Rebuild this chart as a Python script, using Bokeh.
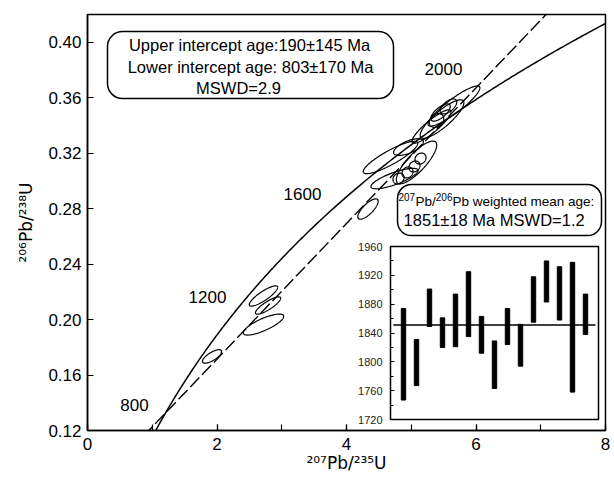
import numpy as np
from bokeh.plotting import figure
from bokeh.models import (Range1d, LinearAxis, SingleIntervalTicker, FixedTicker,
                          Label, BoxAnnotation, PrintfTickFormatter)
from bokeh.embed import file_html
from bokeh.resources import INLINE

# ---------------- data ----------------
# decay constants (1/yr)
L238 = 1.55125e-10
L235 = 9.8485e-10

lower_intercept_age = 803.0    # Ma
upper_intercept_age = 1903.0   # Ma
concordia_label_ages = ["800", "1200", "1600", "2000"]

# analyses: 207Pb/235U, 206Pb/238U, 1-sigma extents and error correlation
ell_x = [1.923, 2.718, 2.788, 2.718, 4.332, 4.741, 4.680, 5.081, 5.143, 5.050,
         4.942, 4.803, 4.958, 5.313, 5.660, 5.475, 5.452, 5.575, 5.390]
ell_y = [0.1734, 0.2170, 0.2101, 0.1964, 0.2797, 0.3017, 0.3169, 0.3133, 0.3161, 0.3104,
         0.3061, 0.3017, 0.3244, 0.3392, 0.3540, 0.3446, 0.3493, 0.3537, 0.3436]
ell_sx = [0.148, 0.2198, 0.195, 0.3127, 0.1572, 0.364, 0.422, 0.312, 0.0853, 0.0853,
          0.0853, 0.0853, 0.2303, 0.3018, 0.400, 0.3376, 0.150, 0.128, 0.112]
ell_sy = [0.00487, 0.00733, 0.00625, 0.00757, 0.00734, 0.00739, 0.0117, 0.01542, 0.00398, 0.00398,
          0.00398, 0.00398, 0.00602, 0.01205, 0.01446, 0.01388, 0.00621, 0.0054, 0.00497]
ell_rho = [0.731, 0.851, 0.842, 0.784, 0.759, 0.784, 0.872, 0.812, 0.18, 0.18,
           0.18, 0.18, 0.636, 0.888, 0.902, 0.846, 0.699, 0.594, 0.276]

# inset: 207Pb/206Pb ages (Ma), error bar bottom / top
spot = list(range(1, 16))
age_low = [1747, 1767, 1849, 1820, 1821, 1835, 1812, 1763, 1824, 1794, 1855, 1883, 1858, 1758, 1838]
age_high = [1874, 1831, 1901, 1861, 1894, 1925, 1863, 1829, 1874, 1852, 1918, 1940, 1932, 1938, 1894]
mean_age = 1851

y_ticks = [0.12, 0.16, 0.20, 0.24, 0.28, 0.32, 0.36, 0.40]

FONT = "Liberation Sans"

# ---------------- figure ----------------
p = figure(width=614, height=481, x_range=Range1d(0, 8), y_range=Range1d(0.12, 0.42),
           output_backend="svg", toolbar_location=None,
           min_border_left=87, min_border_right=9, min_border_top=14, min_border_bottom=51)
p.xgrid.visible = False
p.ygrid.visible = False
p.outline_line_color = "black"
p.outline_line_width = 1.5
p.background_fill_color = "white"
p.border_fill_color = "white"

for ax in (p.xaxis, p.yaxis):
    ax.axis_line_width = 1.5
    ax.major_tick_in = 6
    ax.major_tick_out = 0
    ax.major_tick_line_width = 1.2
    ax.minor_tick_in = 6
    ax.minor_tick_out = 0
    ax.minor_tick_line_width = 1.2
    ax.major_label_text_font = FONT
    ax.major_label_text_font_size = "17px"
    ax.major_label_text_color = "black"
    ax.axis_label_text_font = "DejaVu Sans"
    ax.axis_label_text_font_size = "17px"
    ax.axis_label_text_font_style = "normal"
    ax.axis_label_text_color = "black"

p.xaxis.ticker = SingleIntervalTicker(interval=2, num_minor_ticks=2)
p.xaxis.major_label_standoff = 7
p.xaxis.axis_label = "\u00b2\u2070\u2077Pb/\u00b2\u00b3\u2075U"
p.xaxis.axis_label_standoff = 0
p.yaxis.ticker = FixedTicker(ticks=y_ticks)
p.yaxis.formatter = PrintfTickFormatter(format="%.2f")
p.yaxis.minor_tick_line_color = None
p.yaxis.major_label_standoff = 6
p.yaxis.axis_label = "\u00b2\u2070\u2076Pb/\u00b2\u00b3\u2078U"
p.yaxis.axis_label_standoff = 9

# concordia
ages = np.linspace(600, 2400, 400) * 1e6
cx = np.exp(L235 * ages) - 1
cy = np.exp(L238 * ages) - 1
p.line(cx, cy, line_color="black", line_width=1.5)

# discordia
def conc(t_ma):
    t = t_ma * 1e6
    return np.exp(L235 * t) - 1, np.exp(L238 * t) - 1

x0, y0 = conc(lower_intercept_age)
x1, y1 = conc(upper_intercept_age)
slope = (y1 - y0) / (x1 - x0)
dx = np.array([0.5, 8.0])
p.line(dx, y0 + slope * (dx - x0), line_color="black", line_width=1.4, line_dash="13 4")

# error ellipses
t = np.linspace(0, 2 * np.pi, 120)
xs, ys = [], []
for x, y, sx, sy, r in zip(ell_x, ell_y, ell_sx, ell_sy, ell_rho):
    xs.append(list(x + sx * np.cos(t)))
    ys.append(list(y + sy * (r * np.cos(t) + np.sqrt(1 - r * r) * np.sin(t))))
p.multi_line(xs, ys, line_color="black", line_width=1.2)

def label(txt, lx, ly, size, align="center"):
    p.add_layout(Label(x=lx, y=ly, text=txt, text_font=FONT, text_font_size=size,
                       text_align=align, text_baseline="middle", text_color="black"))

# concordia age labels
lab_x = [0.726, 1.853, 3.320, 5.498]
lab_y = [0.13875, 0.21663, 0.29091, 0.38105]
for txt, lx, ly in zip(concordia_label_ages, lab_x, lab_y):
    label(txt, lx, ly, "17px")

# text box 1
p.add_layout(BoxAnnotation(left=0.309, right=4.726, bottom=0.3594, top=0.4077,
                           fill_color="white", fill_alpha=1.0, line_color="black",
                           line_alpha=1.0, line_width=1.5, border_radius=15))
label("Upper intercept age:190\u00b1145 Ma", 2.502, 0.39836, "16.5px")
label("Lower intercept age: 803\u00b1170 Ma", 2.518, 0.38250, "16.5px")
label("MSWD=2.9", 2.332, 0.36699, "16.5px")

# text box 2
p.add_layout(BoxAnnotation(left=4.788, right=7.938, bottom=0.2606, top=0.2974,
                           fill_color="white", fill_alpha=1.0, line_color="black",
                           line_alpha=1.0, line_width=1.5, border_radius=14))
label("207", 4.803, 0.28875, "10px", "left")
label("Pb/", 5.066, 0.28550, "13.5px", "left")
label("206", 5.379, 0.28875, "10px", "left")
label("Pb weighted mean age:", 5.637, 0.28550, "13.5px", "left")
label("1851\u00b118 Ma MSWD=1.2", 6.28, 0.27194, "16.5px")

# inset
p.extra_x_ranges = {"ix": Range1d(-23.3077, 16.538)}
p.extra_y_ranges = {"iy": Range1d(1704.74, 2281.9)}
p.quad(left=0, right=16, bottom=1720, top=1960, x_range_name="ix", y_range_name="iy",
       fill_color="white", line_color="black", line_width=1.5)
p.vbar(x=spot, bottom=age_low, top=age_high, width=0.34, fill_color="black",
       line_color="black", x_range_name="ix", y_range_name="iy")
p.line([0.21, 15.77], [mean_age, mean_age], line_color="black", line_width=1.5,
       x_range_name="ix", y_range_name="iy")

iax = LinearAxis(x_range_name="ix", y_range_name="iy", fixed_location=0,
                 bounds=(1720, 1960), ticker=SingleIntervalTicker(interval=40, num_minor_ticks=2))
iax.axis_line_color = None
iax.major_tick_in = 4
iax.major_tick_out = 0
iax.minor_tick_in = 3
iax.minor_tick_out = 0
iax.major_label_text_font = FONT
iax.major_label_text_font_size = "11px"
iax.major_label_text_color = "#222222"
iax.major_label_standoff = 8
p.add_layout(iax, "left")

open("out.html", "w").write(file_html(p, INLINE))
